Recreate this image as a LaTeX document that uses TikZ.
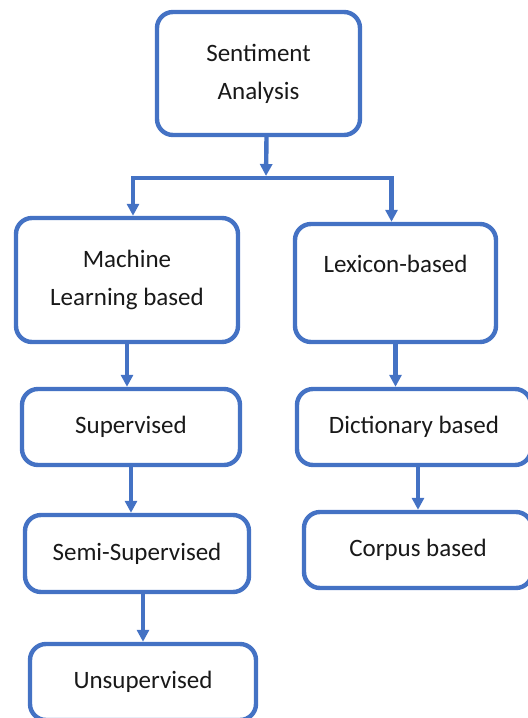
\documentclass[tikz,border=0pt]{standalone}
\usepackage{fontspec}
\setmainfont{Carlito}
\usetikzlibrary{arrows.meta, positioning}
\usepackage{xcolor}
\definecolor{boxblue}{HTML}{4472C4}
\tikzstyle{catbox} = [rectangle, rounded corners=8pt, draw=boxblue, line width=2.2pt,
    fill=white, align=center, inner sep=0pt, text=black!90,
    font=\fontsize{12.5}{19}\selectfont]
\tikzstyle{arrow} = [draw=boxblue, line width=2.2pt, -{Triangle[length=6pt, width=6pt]}]

\begin{document}
\begin{tikzpicture}[x=0.5pt, y=-0.5pt]
\useasboundingbox (0,0) rectangle (527,718);
\node (sa) [catbox, minimum width=101.5pt, minimum height=61.5pt] at (258.5,73.5) {Sentiment\\Analysis};
\node (ml) [catbox, minimum width=111pt, minimum height=62pt] at (127,280) {Machine\\Learning based};
\node (lex) [catbox, minimum width=100.5pt, minimum height=59pt] at (395.5,283) {Lexicon-based\\\mbox{}};
\node (sup) [catbox, minimum width=109pt, minimum height=38pt] at (131,427) {Supervised};
\node (semi) [catbox, minimum width=112pt, minimum height=38.5pt] at (137,553.5) {Semi-Supervised};
\node (uns) [catbox, minimum width=113pt, minimum height=38pt] at (143,682) {Unsupervised};
\node (dict) [catbox, minimum width=117pt, minimum height=38pt] at (414,427) {Dictionary based};
\node (corp) [catbox, minimum width=114pt, minimum height=38pt] at (418,550) {Corpus based};
\coordinate (split) at (266,178);
% top split
\draw [arrow, shorten >=1pt] ([xshift=4pt]sa.south) -- (split);
\draw [arrow] (split) -| ([xshift=3pt]ml.north);
\draw [arrow] (split) -| ([xshift=-2pt]lex.north);
% machine learning branch
\draw [arrow] (ml.south) -- (ml.south |- sup.north);
\draw [arrow] (sup.south) -- (sup.south |- semi.north);
\draw [arrow] (uns.north |- semi.south) -- (uns.north);
% lexicon branch
\draw [arrow] (lex.south) -- (lex.south |- dict.north);
\draw [arrow] (corp.north |- dict.south) -- (corp.north);
\end{tikzpicture}
\end{document}
